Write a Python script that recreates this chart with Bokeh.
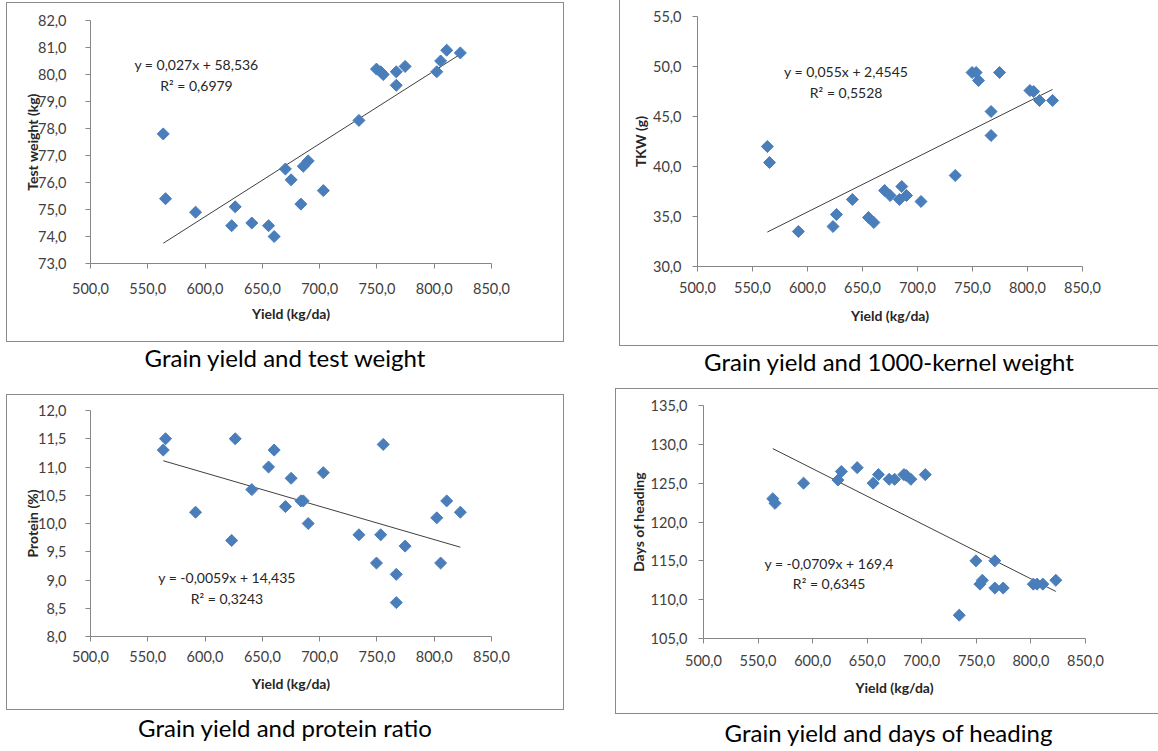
from bokeh.plotting import figure
from bokeh.models import Range1d, FixedTicker, CustomJSTickFormatter, Label, Div, Spacer
from bokeh.layouts import column, row
from bokeh.embed import file_html
from bokeh.resources import INLINE

# ---------------- data ----------------
yield_kg_da = [563.5, 565.5, 591.7, 623.2, 626.3, 640.8, 655.4, 660.3, 670.1, 675.1,
               683.6, 685.7, 690.0, 703.2, 734.3, 749.6, 753.3, 755.5, 766.9, 766.9,
               774.6, 802.2, 805.6, 810.9, 822.8]
test_weight = [77.8, 75.4, 74.9, 74.4, 75.1, 74.5, 74.4, 74.0, 76.5, 76.1,
               75.2, 76.6, 76.8, 75.7, 78.3, 80.2, 80.1, 80.0, 80.1, 79.6,
               80.3, 80.1, 80.5, 80.9, 80.8]
tkw = [42.0, 40.4, 33.5, 34.0, 35.2, 36.7, 34.9, 34.4, 37.6, 37.1,
       36.7, 38.0, 37.1, 36.5, 39.1, 49.4, 49.4, 48.6, 45.5, 43.1,
       49.4, 47.6, 47.5, 46.6, 46.6]
protein = [11.3, 11.5, 10.2, 9.7, 11.5, 10.6, 11.0, 11.3, 10.3, 10.8,
           10.4, 10.4, 10.0, 10.9, 9.8, 9.3, 9.8, 11.4, 9.1, 8.6,
           9.6, 10.1, 9.3, 10.4, 10.2]
days_heading = [123.0, 122.4, 125.0, 125.4, 126.5, 127.0, 125.0, 126.1, 125.5, 125.5,
                126.1, 126.0, 125.5, 126.1, 108.0, 115.0, 112.0, 112.5, 115.0, 111.5,
                111.5, 112.0, 112.0, 112.0, 112.5]

# trendline equations shown on the chart (slope, intercept)
trend_tw = (0.027, 58.536)
trend_tkw = (0.055, 2.4545)
trend_pr = (-0.0059, 14.435)
trend_dh = (-0.0709, 169.4)

eq_tw = ["y = 0,027x + 58,536", "R² = 0,6979"]
eq_tkw = ["y = 0,055x + 2,4545", "R² = 0,5528"]
eq_pr = ["y = -0,0059x + 14,435", "R² = 0,3243"]
eq_dh = ["y = -0,0709x + 169,4", "R² = 0,6345"]

x_ticks = [500, 550, 600, 650, 700, 750, 800, 850]
y_ticks_tw = [73, 74, 75, 76, 77, 78, 79, 80, 81, 82]
y_ticks_tkw = [30, 35, 40, 45, 50, 55]
y_ticks_pr = [8.0, 8.5, 9.0, 9.5, 10.0, 10.5, 11.0, 11.5, 12.0]
y_ticks_dh = [105, 110, 115, 120, 125, 130, 135]

x_title = "Yield (kg/da)"
captions = ["Grain yield and test weight", "Grain yield and 1000-kernel weight",
            "Grain yield and protein ratio", "Grain yield and days of heading"]

FONT = "Lato"
BLUE = "#4A7EBB"
AX = "#868686"
BORDER = "#8a8a8a"

fmt_code = "return tick.toFixed(1).replace('.', ',');"


def make_panel(xs, ys, yticks, ytitle, trend, eq, eq_pos,
               W, H, fl, fr, ft, fb, ystd, xstd, ylab_std, xlab_std):
    p = figure(width=W, height=H, output_backend="svg", toolbar_location=None,
               x_range=Range1d(x_ticks[0], x_ticks[-1]),
               y_range=Range1d(yticks[0], yticks[-1]),
               min_border_left=fl, min_border_right=fr,
               min_border_top=ft, min_border_bottom=fb)
    p.outline_line_color = None
    p.grid.visible = False
    p.background_fill_color = "white"
    p.border_fill_color = "white"

    for ax in (p.xaxis[0], p.yaxis[0]):
        ax.axis_line_color = AX
        ax.major_tick_line_color = AX
        ax.major_tick_out = 5
        ax.major_tick_in = 0
        ax.minor_tick_line_color = None
        ax.major_label_text_font = FONT
        ax.major_label_text_font_size = "14.5px"
        ax.major_label_text_color = "#404040"
        ax.axis_label_text_font = FONT
        ax.axis_label_text_font_size = "14px"
        ax.axis_label_text_font_style = "bold"
        ax.axis_label_text_color = "#262626"
        ax.formatter = CustomJSTickFormatter(code=fmt_code)
    p.xaxis[0].ticker = FixedTicker(ticks=x_ticks)
    p.yaxis[0].ticker = FixedTicker(ticks=yticks)
    p.xaxis[0].axis_label = x_title
    p.yaxis[0].axis_label = ytitle
    p.yaxis[0].major_label_standoff = ystd
    p.xaxis[0].major_label_standoff = xstd
    p.yaxis[0].axis_label_standoff = ylab_std
    p.xaxis[0].axis_label_standoff = xlab_std

    # trendline from the stated equation, over the data's x extent
    tx = [min(xs), max(xs)]
    ty = [trend[0] * v + trend[1] for v in tx]
    p.line(tx, ty, line_color="#3f3f3f", line_width=1)

    p.scatter(xs, ys, marker="square", angle=0.785398, size=8.5,
              fill_color=BLUE, line_color=BLUE)

    for txt, (ex, ey) in zip(eq, eq_pos):
        p.add_layout(Label(x=ex, y=ey, text=txt, text_font=FONT, text_font_size="14px",
                           text_color="#262626", text_align="center", text_baseline="middle"))
    return p


def hline(w):
    return Spacer(width=w, height=1, styles={"background-color": BORDER})


def vline(h):
    return Spacer(width=1, height=h, styles={"background-color": BORDER})


def caption_div(text, w, h):
    return Div(text=text, width=w, height=h, margin=(0, 0, 0, 0),
               styles={"font-family": "Lato", "font-size": "24px", "text-align": "center",
                       "line-height": f"{h}px", "color": "#000000", "white-space": "nowrap"})


p1 = make_panel(yield_kg_da, test_weight, y_ticks_tw, "Test weight (kg)", trend_tw, eq_tw,
                [(592.5, 80.37), (592.5, 79.59)],
                556, 338, 83, 72, 17, 78, 19, 14, -6, 8)
p2 = make_panel(yield_kg_da, tkw, y_ticks_tkw, "TKW (g)", trend_tkw, eq_tkw,
                [(635.1, 49.52), (635.1, 47.39)],
                538, 345, 77, 76, 16, 79, 11, 10, 1, 11)
p3 = make_panel(yield_kg_da, protein, y_ticks_pr, "Protein (%)", trend_pr, eq_pr,
                [(619.1, 9.04), (619.1, 8.68)],
                556, 314, 83, 72, 15, 73, 19, 9, -6, 10)
p4 = make_panel(yield_kg_da, days_heading, y_ticks_dh, "Days of heading", trend_dh, eq_dh,
                [(615.1, 114.66), (615.1, 112.03)],
                542, 324, 87, 73, 16, 75, 11, 11, 1, 10)

box1 = column(hline(558), row(vline(338), p1, vline(338)), hline(558))
box3 = column(hline(558), row(vline(314), p3, vline(314)), hline(558))
box2 = column(row(vline(345), p2), hline(539))
box4 = column(hline(543), row(vline(324), p4), hline(543))

left_col = column(
    Spacer(width=564, height=2),
    row(Spacer(width=6, height=340), box1),
    row(Spacer(width=6, height=32), caption_div(captions[0], 558, 32)),
    Spacer(width=564, height=20),
    row(Spacer(width=6, height=316), box3),
    row(Spacer(width=6, height=36), caption_div(captions[2], 558, 36)),
)
right_col = column(
    row(Spacer(width=55, height=346), box2),
    row(Spacer(width=56, height=32), caption_div(captions[1], 538, 32)),
    Spacer(width=594, height=10),
    row(Spacer(width=51, height=326), box4),
    row(Spacer(width=55, height=37), caption_div(captions[3], 539, 37)),
)
layout = row(left_col, right_col)

with open("out.html", "w") as f:
    f.write(file_html(layout, INLINE))
